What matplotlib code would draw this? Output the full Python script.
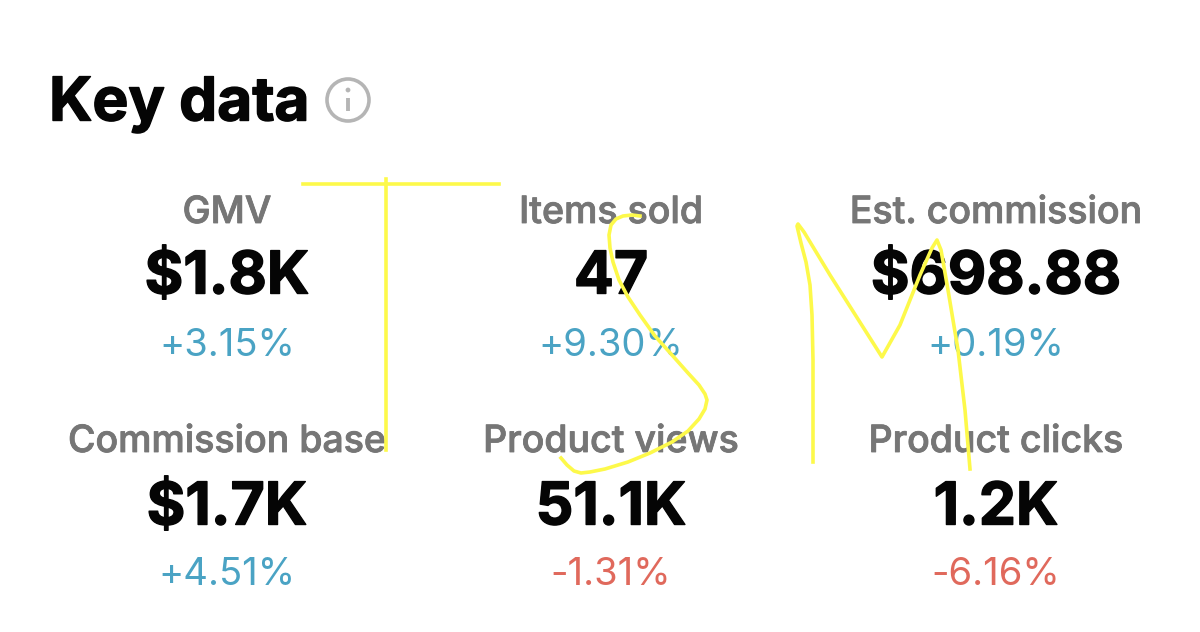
"""Key data metric cards with marker scribbles on top."""
import matplotlib
matplotlib.use("Agg")
import matplotlib.pyplot as plt
import matplotlib.patheffects as pe
from matplotlib.patches import Circle

# data
labels = ["GMV", "Items sold", "Est. commission",
          "Commission base", "Product views", "Product clicks"]
values = ["$1.8K", "47", "$698.88", "$1.7K", "51.1K", "1.2K"]
changes = ["+3.15%", "+9.30%", "+0.19%", "+4.51%", "-1.31%", "-6.16%"]

# marker scribbles, traced in image pixels
t_bar_x = [303, 499]
t_bar_y = [184, 184]
t_stem_x = [386, 386]
t_stem_y = [179, 450]
s_x = [640, 632, 623, 616, 611, 609, 610, 613, 619, 628, 640, 655, 672, 688, 699, 705, 707,
       705, 699, 688, 672, 650, 628, 605, 590, 581, 574, 567, 561]
s_y = [216, 215, 216, 219, 225, 235, 248, 262, 280, 297, 315, 336, 355, 373, 385, 394, 400,
       409, 419, 431, 442, 453, 462, 469, 472, 473, 471, 465, 458]
m_x = [813, 813, 813, 812, 810, 806, 801, 797, 798, 804, 830, 882, 900, 920, 932, 937, 941,
       948, 958, 965, 970]
m_y = [462, 420, 360, 315, 285, 262, 243, 226, 224, 232, 275, 357, 325, 275, 248, 240, 250,
       290, 350, 410, 469]

# theme
BLACK = "#050505"
GREY = "#767676"
BLUE = "#4aa3c4"
RED = "#e0695c"
YELLOW = "#fdf94a"
RING = "#b5b5b5"

col_x = [227, 611, 996, 227, 611, 996]
label_y = [209, 209, 209, 438, 438, 438]
value_y = [272, 272, 272, 503, 503, 503]
change_y = [342, 342, 342, 571, 571, 571]

plt.rcParams["font.family"] = ["Inter", "DejaVu Sans"]

fig = plt.figure(figsize=(12, 6.32), dpi=100)
ax = fig.add_axes([0, 0, 1, 1])
ax.set_xlim(0, 1200)
ax.set_ylim(632, 0)
ax.axis("off")

heavy = [pe.withStroke(linewidth=1.0, foreground=BLACK)]
semi = [pe.withStroke(linewidth=0.6, foreground=GREY)]

ax.text(49, 98, "Key data", fontsize=43.5, fontweight="bold", color=BLACK,
        ha="left", va="center_baseline", path_effects=heavy)

# info icon
ax.add_patch(Circle((348, 100), 21, fill=False, ec=RING, lw=2.6))
ax.add_patch(Circle((348, 90), 2.4, fc=RING, ec="none"))
ax.plot([348, 348], [98, 111], color=RING, lw=2.8, solid_capstyle="butt")

for i in range(len(labels)):
    ax.text(col_x[i], label_y[i], labels[i], fontsize=27, fontweight="medium",
            color=GREY, ha="center", va="center_baseline", path_effects=semi)
    ax.text(col_x[i], value_y[i], values[i], fontsize=42.5, fontweight="bold",
            color=BLACK, ha="center", va="center_baseline", path_effects=heavy)
    col = RED if changes[i].startswith("-") else BLUE
    ax.text(col_x[i], change_y[i], changes[i], fontsize=27.5, fontweight="normal",
            color=col, ha="center", va="center_baseline")

for xs, ys in [(t_bar_x, t_bar_y), (t_stem_x, t_stem_y), (s_x, s_y), (m_x, m_y)]:
    ax.plot(xs, ys, color=YELLOW, lw=2.6, solid_joinstyle="round", zorder=5)

fig.savefig("out.png", dpi=100, facecolor="white")
